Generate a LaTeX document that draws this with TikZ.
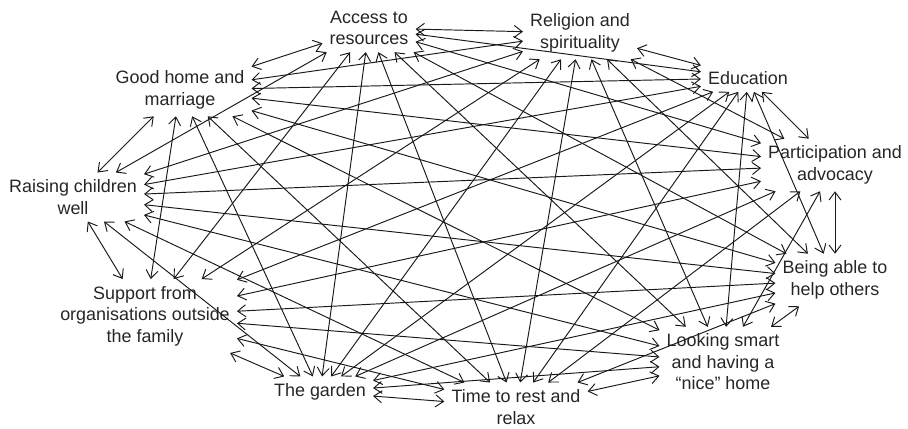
\documentclass[tikz,border=0pt]{standalone}
\usepackage{fontspec}
\setmainfont{Liberation Sans}
\usetikzlibrary{arrows.meta}

\begin{document}
\begin{tikzpicture}[x=1bp,y=-1bp,
    concept/.style={align=center,inner sep=7bp,text=black!85,
        font=\fontsize{18}{21.5}\selectfont},
    link/.style={{Straight Barb[length=8bp,width=12bp]}-{Straight Barb[length=8bp,width=12bp]},
        line width=0.95bp,black!90}]
    \useasboundingbox (0,0) rectangle (908,428);
    % concepts, clockwise from the top
    \node[concept] (access) at (369,28) {Access to\\resources};
    \node[concept] (religion) at (580,33) {Religion and\\spirituality};
    \node[concept] (education) at (748,78) {Education};
    \node[concept] (participation) at (835,165) {Participation and\\advocacy};
    \node[concept] (helping) at (835,280) {Being able to\\help others};
    \node[concept] (looking) at (723,362) {Looking smart\\and having a\\“nice” home};
    \node[concept] (rest) at (516,407) {Time to rest and\\relax};
    \node[concept] (garden) at (320,392) {The garden};
    \node[concept] (support) at (145,316) {Support from\\organisations outside\\the family};
    \node[concept] (children) at (73,197) {Raising children\\well};
    \node[concept] (home) at (180,90) {Good home and\\marriage};
    % every concept is linked with every other one
    \foreach \a [count=\i] in {access,religion,education,participation,helping,looking,rest,garden,support,children,home}
        \foreach \b [count=\j] in {access,religion,education,participation,helping,looking,rest,garden,support,children,home}
            {\ifnum\j>\i \draw[link] (\a) -- (\b); \fi}
\end{tikzpicture}
\end{document}
